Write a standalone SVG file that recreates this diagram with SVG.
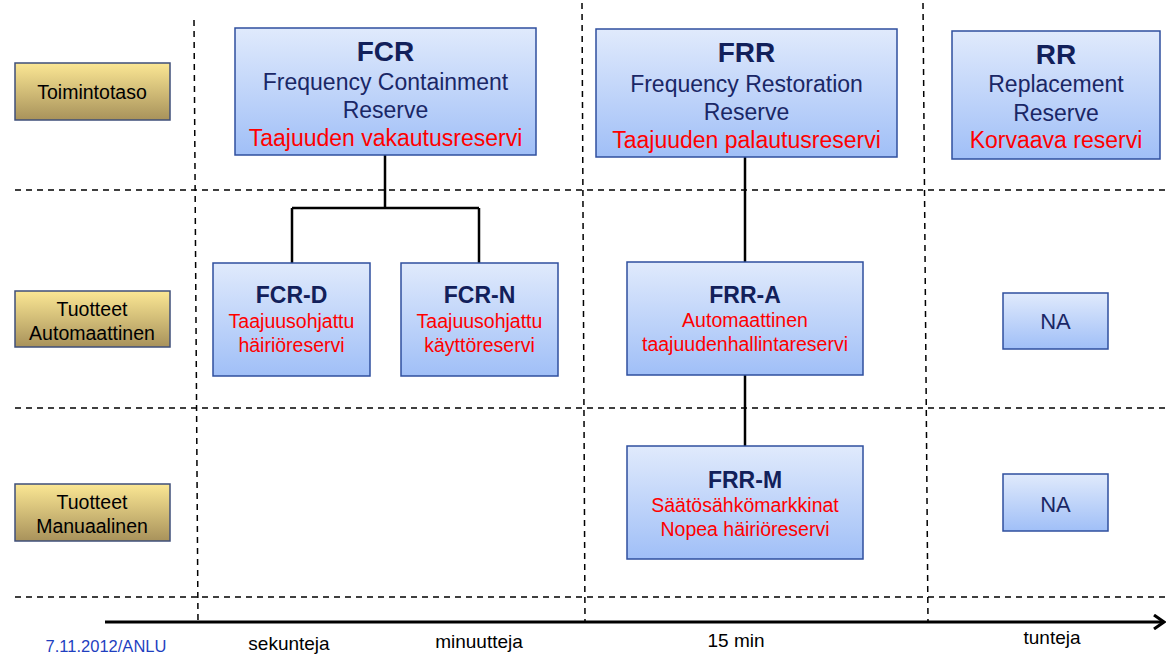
<svg xmlns="http://www.w3.org/2000/svg" width="1172" height="664" viewBox="0 0 1172 664">
<defs>
<linearGradient id="gb" x1="0" y1="0" x2="0" y2="1"><stop offset="0" stop-color="#e0eafc"/><stop offset="1" stop-color="#a0bff7"/></linearGradient>
<linearGradient id="gg" x1="0" y1="0" x2="0" y2="1"><stop offset="0" stop-color="#fbe794"/><stop offset="1" stop-color="#a8925b"/></linearGradient>
<marker id="arr" markerWidth="14" markerHeight="16" refX="12" refY="8" orient="auto" markerUnits="userSpaceOnUse"><path d="M2,1 L12,8 L2,15" fill="none" stroke="#000" stroke-width="3"/></marker>
</defs>
<style>
text{font-family:"Liberation Sans",Arial,sans-serif;text-anchor:middle}
.blue{fill:url(#gb);stroke:#2f4f9e;stroke-width:1.5}
.gold{fill:url(#gg);stroke:#3f4f7a;stroke-width:1.5}
.t1{font-size:28px;font-weight:bold;fill:#12205a}
.t2{font-size:23px;font-weight:bold;fill:#12205a}
.s{font-size:23px;fill:#1a2766}
.na{font-size:22px;fill:#1a2766}
.r{font-size:23px;fill:#ff0000}
.rs{font-size:19.5px;fill:#ff0000}
.lbl{font-size:19.5px;fill:#000}
.ax{font-size:19px;fill:#000}
.dash{stroke:#000;stroke-width:1.5;stroke-dasharray:6,5;fill:none}
.con{stroke:#000;stroke-width:2.5;fill:none}
</style>
<g id="grid">
<line class="dash" x1="15" y1="190" x2="1166" y2="190"/>
<line class="dash" x1="15" y1="408" x2="1166" y2="408"/>
<line class="dash" x1="15" y1="597" x2="1166" y2="597"/>
<line class="dash" x1="194" y1="20" x2="198" y2="622"/>
<line class="dash" x1="582" y1="3" x2="585" y2="622"/>
<line class="dash" x1="923" y1="3" x2="928" y2="622"/>
</g>
<g id="axis">
<line x1="105" y1="622" x2="1164" y2="622" stroke="#000" stroke-width="3" marker-end="url(#arr)"/>
<text x="106" y="652" style="font-size:16.5px;fill:#1f3fbf">7.11.2012/ANLU</text>
<text x="289" y="650" class="ax">sekunteja</text>
<text x="479" y="648" class="ax">minuutteja</text>
<text x="736" y="647" class="ax">15 min</text>
<text x="1052" y="644" class="ax">tunteja</text>
</g>
<g id="toimintotaso"><rect class="gold" x="15" y="63" width="155" height="57"/><text x="92" y="99" class="lbl">Toimintotaso</text></g>
<g id="tuotteet-auto"><rect class="gold" x="15" y="291" width="155" height="56"/><text x="92" y="316" class="lbl">Tuotteet</text><text x="92" y="340" class="lbl">Automaattinen</text></g>
<g id="tuotteet-manu"><rect class="gold" x="15" y="484" width="155" height="57"/><text x="92" y="509" class="lbl">Tuotteet</text><text x="92" y="533" class="lbl">Manuaalinen</text></g>
<g id="connectors">
<path class="con" d="M385,155 V208 M292,208 H479 M292,208 V263 M479,208 V263"/>
<path class="con" d="M745,157 V262"/>
<path class="con" d="M745,375 V446"/>
</g>
<g id="fcr"><rect class="blue" x="235" y="28" width="301" height="127"/>
<text x="385.5" y="61" class="t1">FCR</text><text x="385.5" y="90" class="s">Frequency Containment</text><text x="385.5" y="118" class="s">Reserve</text><text x="385.5" y="146" class="r">Taajuuden vakautusreservi</text></g>
<g id="frr"><rect class="blue" x="596" y="29" width="301" height="128"/>
<text x="746.5" y="62" class="t1">FRR</text><text x="746.5" y="92" class="s">Frequency Restoration</text><text x="746.5" y="120" class="s">Reserve</text><text x="746.5" y="148" class="r">Taajuuden palautusreservi</text></g>
<g id="rr"><rect class="blue" x="952" y="31" width="208" height="128"/>
<text x="1056" y="64" class="t1">RR</text><text x="1056" y="92" class="s">Replacement</text><text x="1056" y="121" class="s">Reserve</text><text x="1056" y="148" class="r">Korvaava reservi</text></g>
<g id="fcr-d"><rect class="blue" x="213" y="263" width="157" height="113"/>
<text x="291.5" y="303" class="t2">FCR-D</text><text x="291.5" y="328" class="rs">Taajuusohjattu</text><text x="291.5" y="352" class="rs">häiriöreservi</text></g>
<g id="fcr-n"><rect class="blue" x="401" y="263" width="157" height="113"/>
<text x="479.5" y="303" class="t2">FCR-N</text><text x="479.5" y="328" class="rs">Taajuusohjattu</text><text x="479.5" y="352" class="rs">käyttöreservi</text></g>
<g id="frr-a"><rect class="blue" x="627" y="262" width="236" height="113"/>
<text x="745" y="303" class="t2">FRR-A</text><text x="745" y="327" class="rs">Automaattinen</text><text x="745" y="351" class="rs">taajuudenhallintareservi</text></g>
<g id="frr-m"><rect class="blue" x="627" y="446" width="236" height="113"/>
<text x="745" y="488" class="t2">FRR-M</text><text x="745" y="512" class="rs">Säätösähkömarkkinat</text><text x="745" y="536" class="rs">Nopea häiriöreservi</text></g>
<g id="na1"><rect class="blue" x="1003" y="293" width="105" height="56"/><text x="1055.5" y="329" class="na">NA</text></g>
<g id="na2"><rect class="blue" x="1003" y="474" width="105" height="57"/><text x="1055.5" y="512" class="na">NA</text></g>
</svg>
